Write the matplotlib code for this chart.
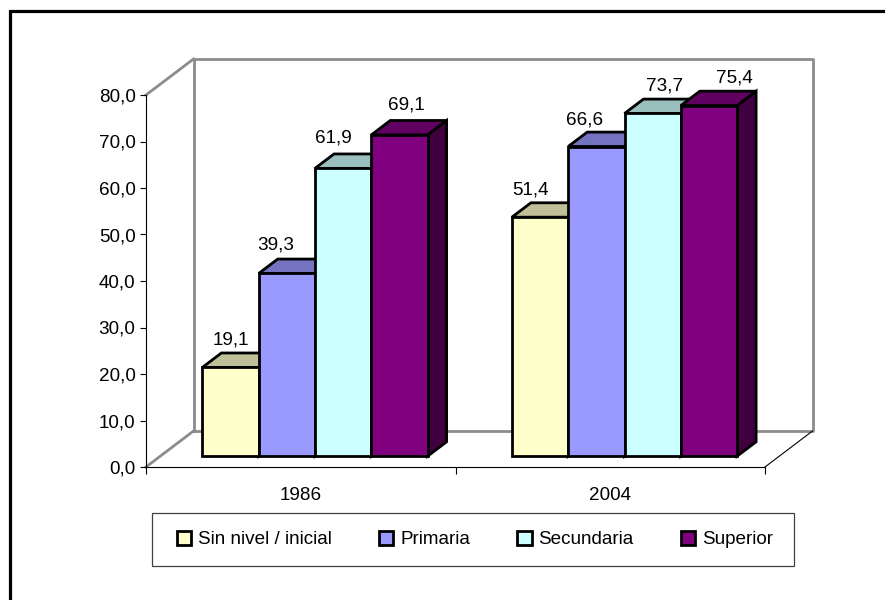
import matplotlib
matplotlib.use("Agg")
import matplotlib.pyplot as plt
from matplotlib.patches import Polygon, Rectangle, Patch

W, H = 885, 600
plt.rcParams['font.family'] = ['Liberation Sans', 'DejaVu Sans']

categories = ['1986', '2004']
series_names = ['Sin nivel / inicial', 'Primaria', 'Secundaria', 'Superior']
sin_nivel = [19.1, 51.4]
primaria = [39.3, 66.6]
secundaria = [61.9, 73.7]
superior = [69.1, 75.4]
series_values = [sin_nivel, primaria, secundaria, superior]
front_colors = ['#FFFFCC', '#9999FF', '#CCFFFF', '#800080']
top_colors = ['#BFBF99', '#7373BF', '#99BFBF', '#600060']
side_colors = ['#808066', '#4D4D80', '#668080', '#400040']
y_ticks = list(range(0, 90, 10))

FS = 13.6
fig = plt.figure(figsize=(W / 100, H / 100), dpi=100)
# outer frame: only its top and left edges fall inside the picture
fig.add_artist(Rectangle((10 / W, -10 / H), (W + 10) / W, (H + 10 - 10.5) / H,
                         transform=fig.transFigure, fill=False, ec='black', lw=2.3))
ax = fig.add_axes([146 / W, 1 - 467 / H, (765 - 146) / W, (467 - 95) / H])
ax.set_xlim(-0.5, 1.5)
ax.set_ylim(0, 80)
ax.patch.set_visible(False)

DX = 47.5 * 2 / 619   # depth of the box in x data units
DY = 36 * 80 / 372    # depth of the box in y data units
BAR_W = 2 / 619 * 56.3
GREY = '#8C8C8C'

def wall_line(xs, ys, color=GREY, lw=2.0, z=1):
    ax.plot(xs, ys, color=color, lw=lw, clip_on=False, zorder=z, solid_capstyle='projecting')

# back wall and side wall / floor edges
wall_line([-0.5 + DX, 1.5 + DX, 1.5 + DX, -0.5 + DX, -0.5 + DX],
          [DY, DY, 80 + DY, 80 + DY, DY])
wall_line([-0.5, -0.5 + DX], [0, DY])
wall_line([-0.5, -0.5 + DX], [80, 80 + DY])
wall_line([1.5, 1.5 + DX], [0, DY], color='black', lw=0.8)

# bars: 3D look built from the data values
lw_bar = 2.0
d0 = 0.30   # bar front plane as a share of box depth
d1 = 0.70   # bar back plane
for j, vals in enumerate(series_values):
    for i, v in enumerate(vals):
        x0 = i - 2 * BAR_W + j * BAR_W + d0 * DX
        x1 = x0 + BAR_W
        y0 = d0 * DY
        y1 = v + y0
        ddx = (d1 - d0) * DX
        ddy = (d1 - d0) * DY
        z = 3 + j + 4 * i
        ax.add_patch(Polygon([(x1, y0), (x1 + ddx, y0 + ddy), (x1 + ddx, y1 + ddy), (x1, y1)],
                             fc=side_colors[j], ec='black', lw=lw_bar, clip_on=False, zorder=z, joinstyle='miter'))
        ax.add_patch(Polygon([(x0, y1), (x0 + ddx, y1 + ddy), (x1 + ddx, y1 + ddy), (x1, y1)],
                             fc=top_colors[j], ec='black', lw=lw_bar, clip_on=False, zorder=z, joinstyle='miter'))
        ax.add_patch(Polygon([(x0, y0), (x1, y0), (x1, y1), (x0, y1)],
                             fc=front_colors[j], ec='black', lw=lw_bar, clip_on=False, zorder=z, joinstyle='miter'))

# value labels (pixel nudges from the bar centre, as placed in the reference)
label_nudge_x = [[0, -11, -10, 7], [-10, -12, 12, 25]]
label_nudge_y = [[0, 1, 3, 3], [0, -1, 0, 0]]
for j, vals in enumerate(series_values):
    for i, v in enumerate(vals):
        xc = i - 2 * BAR_W + (j + 0.5) * BAR_W + d0 * DX
        ax.annotate(f'{v:.1f}'.replace('.', ','), (xc, v + d1 * DY),
                    xytext=(label_nudge_x[i][j] * 0.72, 6 + label_nudge_y[i][j] * 0.72),
                    textcoords='offset points',
                    ha='center', va='baseline', fontsize=FS, color='black', zorder=30,
                    annotation_clip=False)

# axes
for s in ('top', 'right'):
    ax.spines[s].set_visible(False)
for s in ('left', 'bottom'):
    ax.spines[s].set_linewidth(0.8)
    ax.spines[s].set_color('black')
ax.set_yticks(y_ticks)
ax.set_yticklabels([f'{t:.1f}'.replace('.', ',') for t in y_ticks], fontsize=FS)
ax.set_xticks([-0.5, 0.5, 1.5])
ax.set_xticklabels([])
ax.set_xticks([0, 1], minor=True)
ax.set_xticklabels(categories, minor=True, fontsize=FS)
ax.tick_params(axis='x', which='minor', length=0, pad=14.5)
ax.tick_params(axis='x', which='major', length=5, width=0.8)
ax.tick_params(axis='y', length=4.5, width=0.8, pad=3)

# legend box and legend
fig.add_artist(Rectangle((152 / W, 1 - 566 / H), (794 - 152) / W, (566 - 513) / H,
                         transform=fig.transFigure, fc='white', ec='#404040', lw=0.9))
handles = [Patch(fc=c, ec='black', lw=2.0, label=n) for c, n in zip(front_colors, series_names)]
leg = fig.legend(handles=handles, ncol=4, loc='center',
                 bbox_to_anchor=(475 / W, 1 - 539.5 / H),
                 fontsize=FS, frameon=False,
                 handlelength=0.76, handleheight=0.76, handletextpad=0.36,
                 borderaxespad=0, borderpad=0.5, columnspacing=2.5)

fig.savefig('out.png', dpi=100)
